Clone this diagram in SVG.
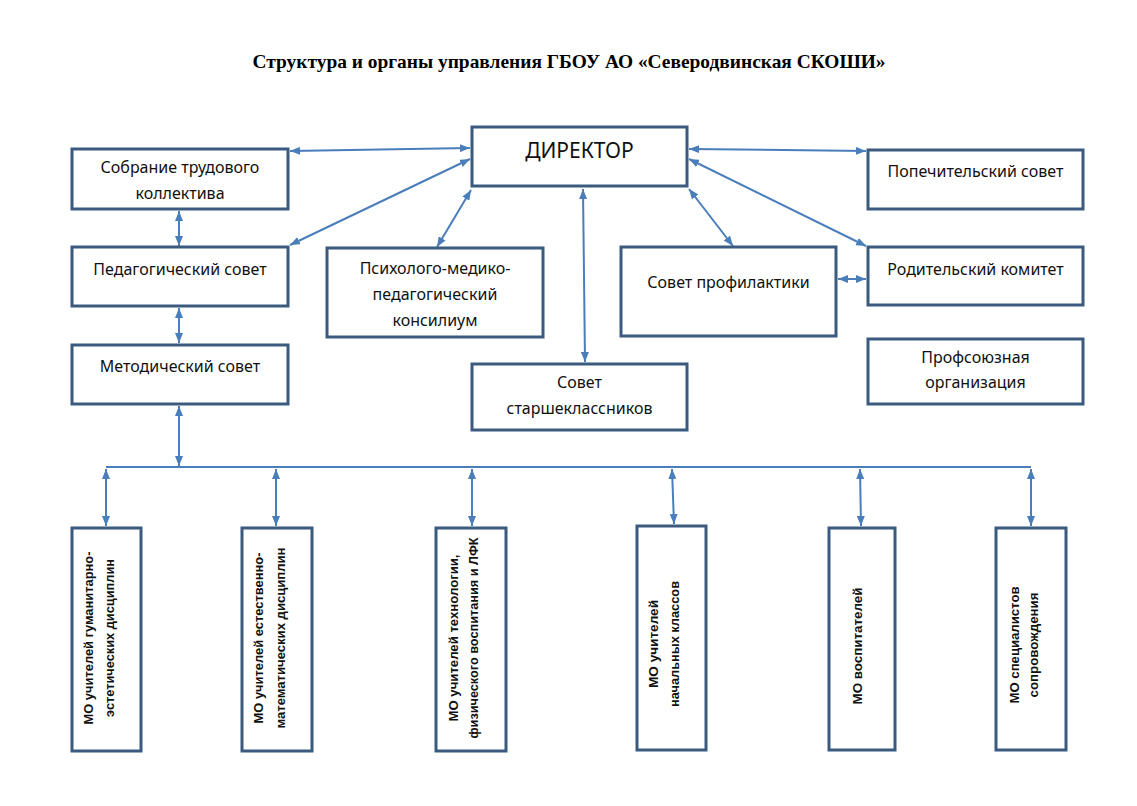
<svg xmlns="http://www.w3.org/2000/svg" width="1137" height="806" viewBox="0 0 1137 806">
<style>
.box{fill:#fff;stroke:#3A5A80;stroke-width:3}
.t{font-family:"Noto Sans","Liberation Sans",sans-serif;font-size:16px;fill:#111;text-anchor:middle}
.v{font-family:"Liberation Sans",Arial,sans-serif;font-size:13px;font-weight:bold;fill:#111;text-anchor:middle}
.c line{stroke:#4A7EBB;stroke-width:2;marker-start:url(#a);marker-end:url(#a)}
</style>
<defs>
<marker id="a" viewBox="0 0 10 8" refX="10" refY="4" markerWidth="10" markerHeight="8" markerUnits="userSpaceOnUse" orient="auto-start-reverse">
<path d="M0,0 L10,4 L0,8 z" fill="#4A7EBB"/>
</marker>
</defs>
<rect width="1137" height="806" fill="#fff"/>
<text x="569" y="68" font-family="Liberation Serif,serif" font-size="19" font-weight="bold" text-anchor="middle" fill="#000" textLength="633" lengthAdjust="spacingAndGlyphs">Структура и органы управления ГБОУ АО «Северодвинская СКОШИ»</text>

<g class="c">
<line x1="290" y1="151" x2="470" y2="148"/>
<line x1="290" y1="245" x2="470" y2="159"/>
<line x1="437" y1="247" x2="471" y2="190"/>
<line x1="583" y1="189" x2="585" y2="362"/>
<line x1="689" y1="189" x2="733" y2="246"/>
<line x1="689" y1="149" x2="866" y2="151"/>
<line x1="689" y1="159" x2="866" y2="246"/>
<line x1="838" y1="279" x2="866" y2="279"/>
<line x1="179" y1="211" x2="179" y2="246"/>
<line x1="179" y1="308" x2="179" y2="343"/>
<line x1="179" y1="406" x2="179" y2="466"/>
<line x1="106" y1="469" x2="106" y2="526"/>
<line x1="276" y1="469" x2="276" y2="526"/>
<line x1="472" y1="469" x2="472" y2="526"/>
<line x1="672" y1="469" x2="674" y2="524"/>
<line x1="860" y1="469" x2="861" y2="526"/>
<line x1="1031" y1="469" x2="1031" y2="526"/>
<path d="M106,467 H1031" stroke="#4A7EBB" stroke-width="2" fill="none"/>
</g>

<g id="director"><rect class="box" x="472" y="127" width="215" height="59"/><text class="t" x="579.5" y="158" style="font-size:21px">ДИРЕКТОР</text></g>
<g id="sobranie"><rect class="box" x="72" y="149" width="216" height="60"/><text class="t" x="180" y="173">Собрание трудового</text><text class="t" x="180" y="199">коллектива</text></g>
<g id="pedsovet"><rect class="box" x="72" y="247" width="216" height="59"/><text class="t" x="180" y="275">Педагогический совет</text></g>
<g id="metodsovet"><rect class="box" x="72" y="345" width="216" height="59"/><text class="t" x="180" y="372">Методический совет</text></g>
<g id="pmpk"><rect class="box" x="327" y="248" width="216" height="89"/><text class="t" x="435" y="274">Психолого-медико-</text><text class="t" x="435" y="300">педагогический</text><text class="t" x="435" y="326">консилиум</text></g>
<g id="starsheklassniki"><rect class="box" x="472" y="364" width="215" height="66"/><text class="t" x="579.5" y="388">Совет</text><text class="t" x="579.5" y="414">старшеклассников</text></g>
<g id="profilaktika"><rect class="box" x="621" y="247" width="215" height="89"/><text class="t" x="728.5" y="288">Совет профилактики</text></g>
<g id="popechitelsky"><rect class="box" x="868" y="150" width="215" height="59"/><text class="t" x="975.5" y="177">Попечительский совет</text></g>
<g id="roditelsky"><rect class="box" x="868" y="247" width="215" height="58"/><text class="t" x="975.5" y="275">Родительский комитет</text></g>
<g id="profsoyuz"><rect class="box" x="868" y="339" width="215" height="65"/><text class="t" x="975.5" y="363">Профсоюзная</text><text class="t" x="975.5" y="388">организация</text></g>

<g id="mo1"><rect class="box" x="72" y="528" width="69" height="223"/>
<text class="v" transform="translate(93,638) rotate(-90)" textLength="173" lengthAdjust="spacingAndGlyphs">МО учителей гуманитарно-</text>
<text class="v" transform="translate(114,638) rotate(-90)" textLength="158" lengthAdjust="spacingAndGlyphs">эстетических дисциплин</text></g>
<g id="mo2"><rect class="box" x="242" y="528" width="70" height="223"/>
<text class="v" transform="translate(263,638) rotate(-90)" textLength="171" lengthAdjust="spacingAndGlyphs">МО учителей естественно-</text>
<text class="v" transform="translate(285,638) rotate(-90)" textLength="181" lengthAdjust="spacingAndGlyphs">математических  дисциплин</text></g>
<g id="mo3"><rect class="box" x="436" y="528" width="70" height="223"/>
<text class="v" transform="translate(458,638) rotate(-90)" textLength="167" lengthAdjust="spacingAndGlyphs">МО учителей технологии,</text>
<text class="v" transform="translate(478,638) rotate(-90)" textLength="201" lengthAdjust="spacingAndGlyphs">физического воспитания и ЛФК</text></g>
<g id="mo4"><rect class="box" x="637" y="526" width="69" height="224"/>
<text class="v" transform="translate(658,644) rotate(-90)" textLength="88" lengthAdjust="spacingAndGlyphs">МО учителей</text>
<text class="v" transform="translate(679,644) rotate(-90)" textLength="126" lengthAdjust="spacingAndGlyphs">начальных  классов</text></g>
<g id="mo5"><rect class="box" x="829" y="528" width="66" height="222"/>
<text class="v" transform="translate(862,646) rotate(-90)" textLength="117" lengthAdjust="spacingAndGlyphs">МО воспитателей</text></g>
<g id="mo6"><rect class="box" x="996" y="528" width="70" height="222"/>
<text class="v" transform="translate(1019,645) rotate(-90)" textLength="117" lengthAdjust="spacingAndGlyphs">МО специалистов</text>
<text class="v" transform="translate(1038,645) rotate(-90)" textLength="105" lengthAdjust="spacingAndGlyphs">сопровождения</text></g>
</svg>
